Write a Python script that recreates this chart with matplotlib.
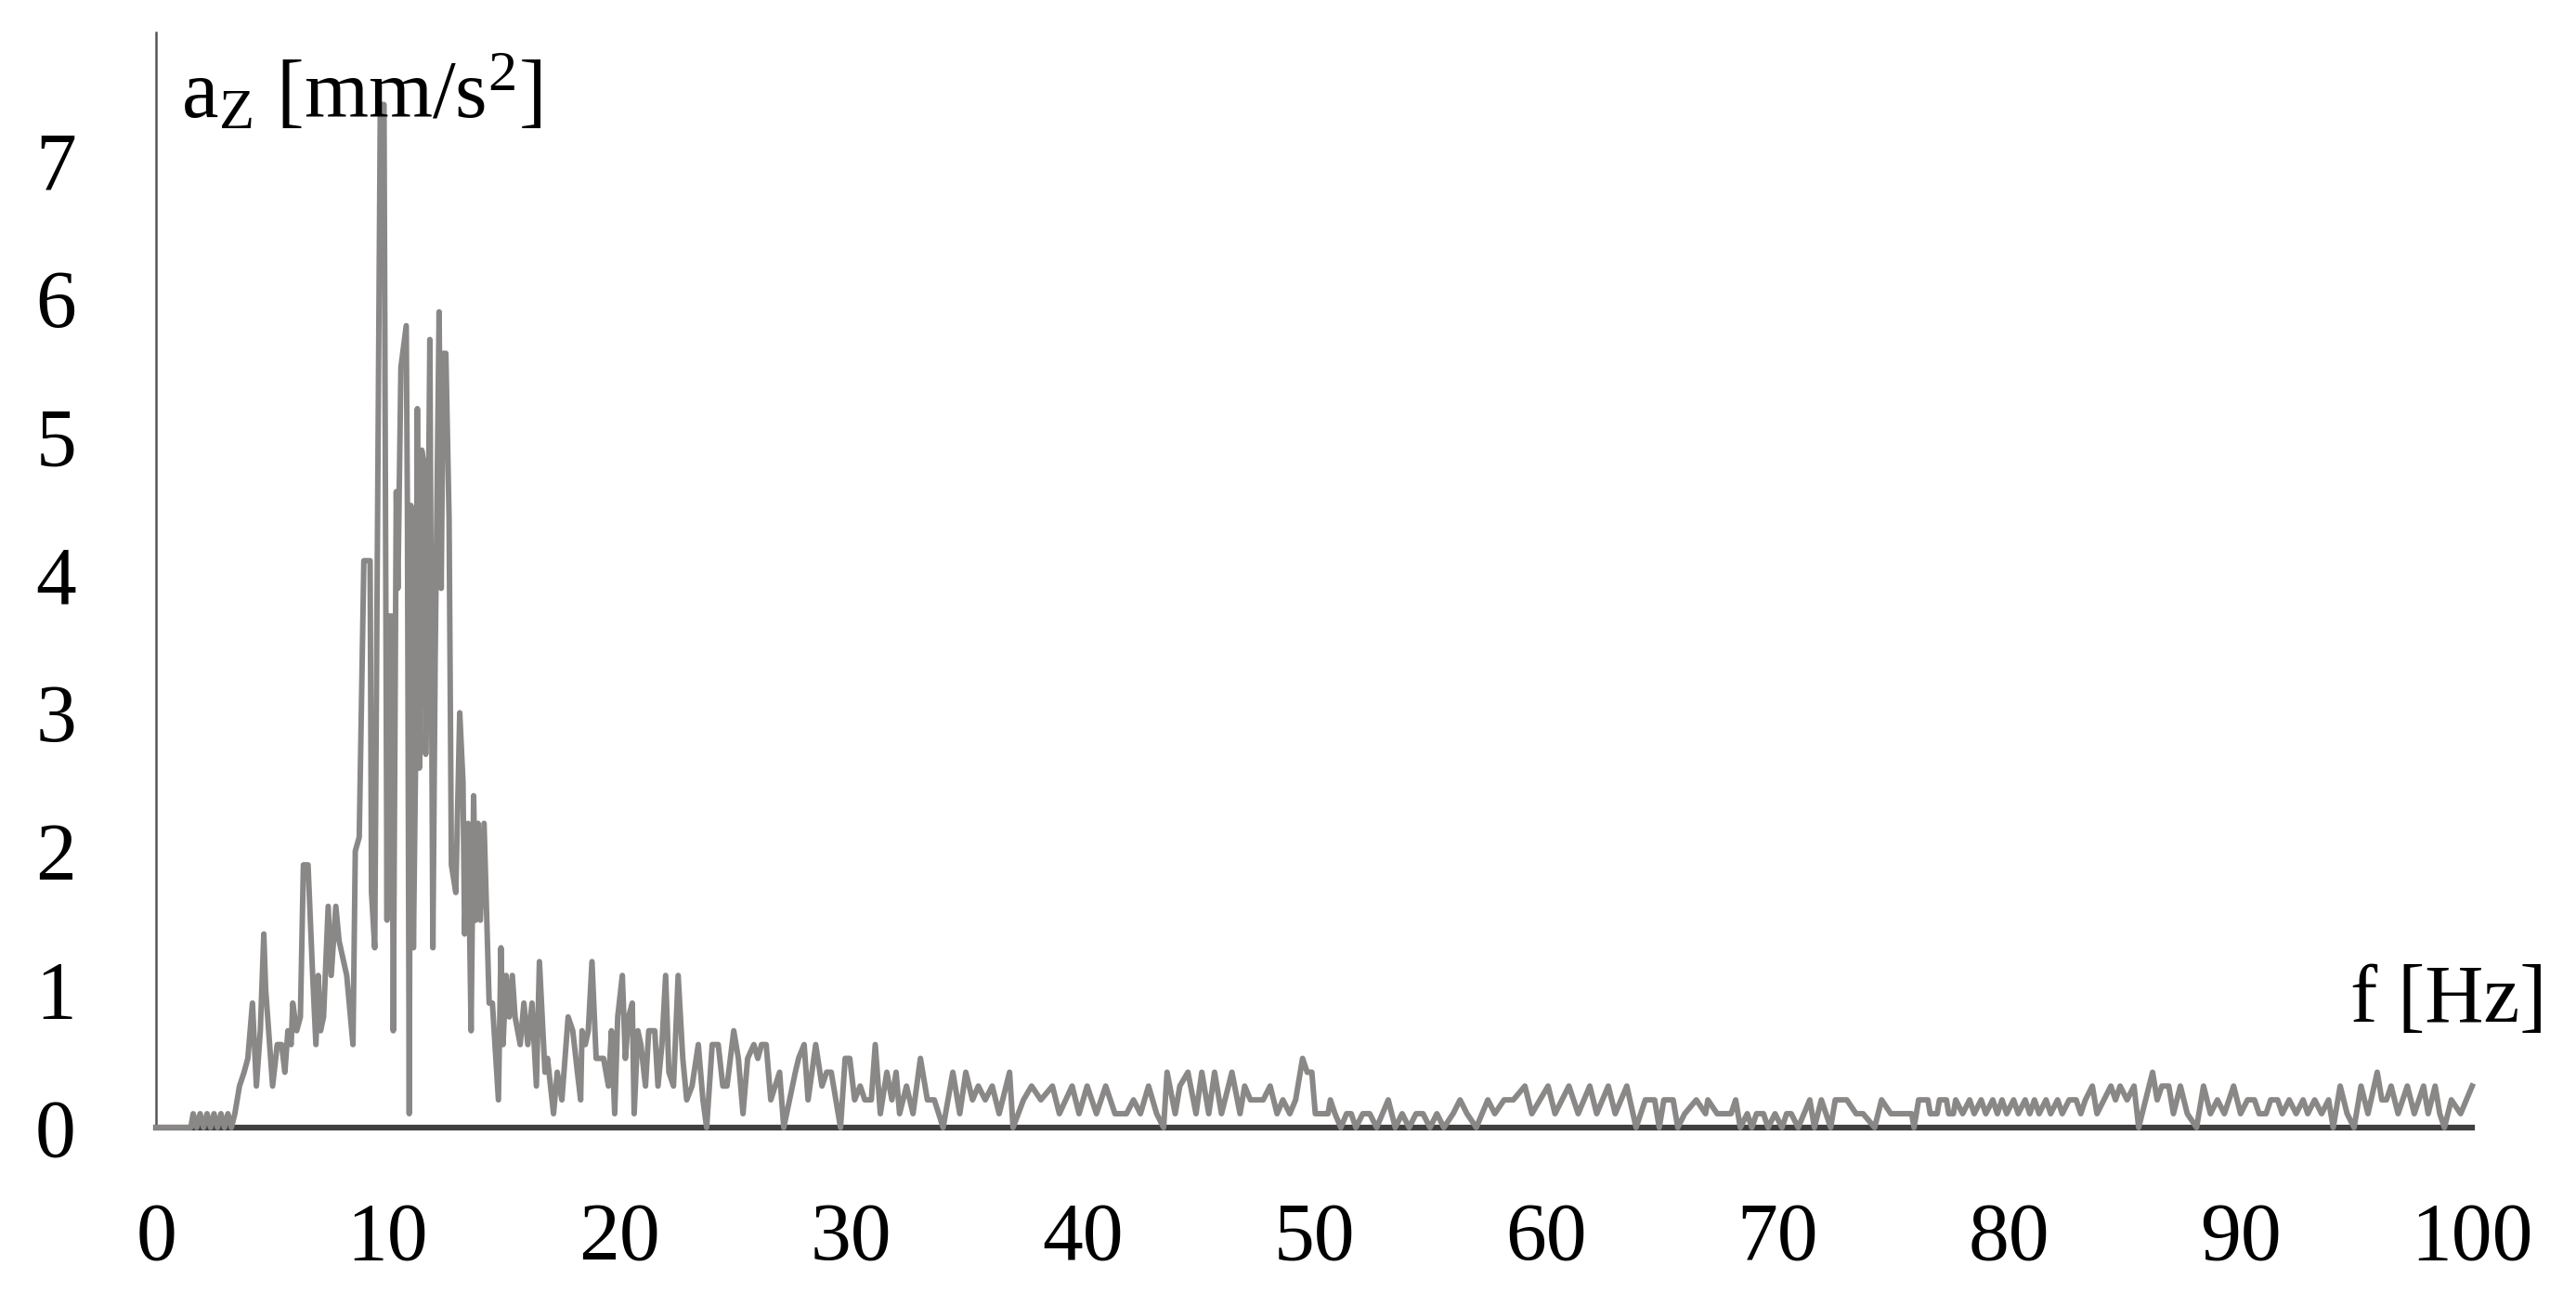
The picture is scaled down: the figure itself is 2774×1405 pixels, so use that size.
import numpy as np
import matplotlib.pyplot as plt

plt.rcParams['font.family'] = ['Liberation Serif', 'DejaVu Serif']
plt.rcParams['mathtext.fontset'] = 'custom'
plt.rcParams['mathtext.rm'] = 'Liberation Serif'
plt.rcParams['mathtext.it'] = 'Liberation Serif:italic'

# spectrum, split in frequency bands
# 0 - 8.5 Hz
f_low = [0.0, 1.5, 1.6, 1.75, 1.9, 2.05, 2.2, 2.35, 2.5, 2.65,
         2.8, 2.95, 3.1, 3.25, 3.4, 3.6, 3.8, 3.96, 4.16, 4.33,
         4.5, 4.65, 4.73, 5.03, 5.23, 5.42, 5.56, 5.69, 5.83, 5.9,
         6.07, 6.23, 6.36, 6.56, 6.76, 6.9, 7.0, 7.1, 7.23, 7.43,
         7.56, 7.76, 7.9, 8.23, 8.5]
a_low = [0.0, 0.0, 0.1, 0.0, 0.1, 0.0, 0.1, 0.0, 0.1, 0.0,
         0.1, 0.0, 0.1, 0.0, 0.1, 0.3, 0.4, 0.5, 0.9, 0.3,
         0.7, 1.4, 1.0, 0.3, 0.6, 0.6, 0.4, 0.7, 0.6, 0.9,
         0.7, 0.8, 1.9, 1.9, 1.1, 0.6, 1.1, 0.7, 0.8, 1.6,
         1.1, 1.6, 1.35, 1.1, 0.6]

# 8.5 - 14.5 Hz (main peak)
f_peak = [8.6, 8.77, 8.97, 9.24, 9.3, 9.44, 9.68, 9.84, 9.97, 10.0,
          10.17, 10.24, 10.37, 10.44, 10.57, 10.8, 10.85, 10.93, 11.0, 11.11,
          11.2, 11.28, 11.37, 11.47, 11.57, 11.64, 11.71, 11.82, 11.95, 12.05,
          12.22, 12.31, 12.4, 12.51, 12.65, 12.75, 12.94, 13.11, 13.25, 13.32,
          13.47, 13.6, 13.71, 13.8, 13.9, 14.0, 14.16, 14.38]
a_peak = [2.0, 2.1, 4.1, 4.1, 1.7, 1.3, 7.4, 7.4, 1.5, 3.7,
          3.7, 0.7, 4.6, 3.9, 5.5, 5.8, 4.5, 0.1, 4.5, 1.3,
          2.6, 5.2, 2.6, 4.9, 4.8, 2.7, 3.6, 5.7, 1.3, 3.4,
          5.9, 3.9, 5.6, 5.6, 4.4, 1.9, 1.7, 3.0, 2.5, 1.4,
          2.2, 0.7, 2.4, 1.5, 2.2, 1.5, 2.2, 0.9]

# 14.5 - 30 Hz
f_mid = [14.52, 14.78, 14.89, 14.98, 15.11, 15.25, 15.38, 15.5, 15.72, 15.88,
         16.05, 16.23, 16.42, 16.55, 16.79, 16.9, 17.16, 17.32, 17.52, 17.79,
         17.99, 18.19, 18.33, 18.39, 18.53, 18.66, 18.82, 19.0, 19.32, 19.53,
         19.66, 19.8, 19.93, 20.13, 20.26, 20.4, 20.56, 20.64, 20.8, 20.93,
         21.13, 21.27, 21.53, 21.67, 21.84, 22.0, 22.14, 22.34, 22.54, 22.74,
         22.91, 23.14, 23.41, 23.61, 23.77, 24.01, 24.27, 24.47, 24.65, 24.94,
         25.14, 25.34, 25.54, 25.81, 25.98, 26.14, 26.34, 26.54, 26.92, 27.1,
         27.35, 27.6, 27.74, 27.98, 28.15, 28.48, 28.75, 28.95, 29.15, 29.55,
         29.75, 29.95]
a_mid = [0.9, 0.2, 1.3, 0.6, 1.1, 0.8, 1.1, 0.8, 0.6, 0.9,
         0.6, 0.9, 0.3, 1.2, 0.4, 0.5, 0.1, 0.4, 0.2, 0.8,
         0.7, 0.4, 0.2, 0.7, 0.6, 0.7, 1.2, 0.5, 0.5, 0.3,
         0.7, 0.1, 0.8, 1.1, 0.5, 0.8, 0.9, 0.1, 0.7, 0.6,
         0.3, 0.7, 0.7, 0.3, 0.6, 1.1, 0.4, 0.3, 1.1, 0.5,
         0.2, 0.3, 0.6, 0.2, 0.0, 0.6, 0.6, 0.3, 0.3, 0.7,
         0.5, 0.1, 0.5, 0.6, 0.5, 0.6, 0.6, 0.2, 0.4, 0.0,
         0.2, 0.4, 0.5, 0.6, 0.2, 0.6, 0.3, 0.4, 0.4, 0.0,
         0.5, 0.5]

# 30 - 65 Hz
f_high = [30.16, 30.4, 30.6, 30.88, 31.05, 31.27, 31.55, 31.77, 31.95, 32.1,
          32.4, 32.68, 33.0, 33.3, 33.6, 33.98, 34.4, 34.7, 34.96, 35.25,
          35.5, 35.8, 36.1, 36.4, 36.85, 37.0, 37.45, 37.8, 38.2, 38.7,
          39.0, 39.55, 39.85, 40.2, 40.6, 41.0, 41.4, 41.9, 42.2, 42.5,
          42.85, 43.2, 43.5, 43.65, 44.0, 44.2, 44.55, 44.9, 45.15, 45.45,
          45.7, 46.0, 46.45, 46.8, 47.0, 47.25, 47.8, 48.1, 48.4, 48.65,
          48.95, 49.2, 49.5, 49.7, 49.9, 50.05, 50.6, 50.7, 50.9, 51.15,
          51.4, 51.6, 51.8, 52.1, 52.4, 52.7, 53.2, 53.5, 53.8, 54.1,
          54.4, 54.7, 55.0, 55.3, 55.6, 56.0, 56.3, 56.6, 57.0, 57.5,
          57.8, 58.2, 58.6, 59.1, 59.4, 59.75, 60.1, 60.4, 60.7, 61.0,
          61.4, 61.65, 61.9, 62.2, 62.45, 62.7, 63.0, 63.25, 63.5, 63.9,
          64.3, 64.7]
a_high = [0.2, 0.3, 0.2, 0.2, 0.6, 0.1, 0.4, 0.2, 0.4, 0.1,
          0.3, 0.1, 0.5, 0.2, 0.2, 0.0, 0.4, 0.1, 0.4, 0.2,
          0.3, 0.2, 0.3, 0.1, 0.4, 0.0, 0.2, 0.3, 0.2, 0.3,
          0.1, 0.3, 0.1, 0.3, 0.1, 0.3, 0.1, 0.1, 0.2, 0.1,
          0.3, 0.1, 0.0, 0.4, 0.1, 0.3, 0.4, 0.1, 0.4, 0.1,
          0.4, 0.1, 0.4, 0.1, 0.3, 0.2, 0.2, 0.3, 0.1, 0.2,
          0.1, 0.2, 0.5, 0.4, 0.4, 0.1, 0.1, 0.2, 0.1, 0.0,
          0.1, 0.1, 0.0, 0.1, 0.1, 0.0, 0.2, 0.0, 0.1, 0.0,
          0.1, 0.1, 0.0, 0.1, 0.0, 0.1, 0.2, 0.1, 0.0, 0.2,
          0.1, 0.2, 0.2, 0.3, 0.1, 0.2, 0.3, 0.1, 0.2, 0.3,
          0.1, 0.2, 0.3, 0.1, 0.2, 0.3, 0.1, 0.2, 0.3, 0.0,
          0.2, 0.2]

# 65 - 100 Hz
f_top = [64.9, 65.1, 65.5, 65.7, 66.0, 66.5, 66.9, 67.0, 67.4, 68.0,
         68.2, 68.4, 68.7, 68.9, 69.1, 69.4, 69.6, 69.9, 70.2, 70.4,
         70.6, 70.9, 71.4, 71.6, 71.9, 72.3, 72.5, 73.0, 73.4, 73.7,
         74.2, 74.5, 74.9, 75.8, 75.9, 76.1, 76.5, 76.6, 76.9, 77.0,
         77.3, 77.4, 77.6, 77.7, 78.0, 78.3, 78.5, 78.8, 79.0, 79.3,
         79.5, 79.7, 79.9, 80.2, 80.4, 80.7, 80.9, 81.1, 81.3, 81.6,
         81.8, 82.1, 82.3, 82.6, 82.9, 83.1, 83.3, 83.6, 83.8, 84.1,
         84.4, 84.6, 84.8, 85.1, 85.4, 85.6, 85.9, 86.2, 86.4, 86.6,
         86.9, 87.1, 87.4, 87.7, 88.1, 88.4, 88.7, 89.0, 89.3, 89.7,
         90.0, 90.3, 90.6, 90.8, 91.1, 91.3, 91.6, 91.8, 92.1, 92.4,
         92.7, 92.9, 93.2, 93.5, 93.8, 94.0, 94.3, 94.6, 94.9, 95.2,
         95.5, 95.9, 96.1, 96.3, 96.5, 96.8, 97.2, 97.5, 97.9, 98.1,
         98.4, 98.6, 98.8, 99.1, 99.5, 100.0]
a_top = [0.0, 0.2, 0.2, 0.0, 0.1, 0.2, 0.1, 0.2, 0.1, 0.1,
         0.2, 0.0, 0.1, 0.0, 0.1, 0.1, 0.0, 0.1, 0.0, 0.1,
         0.1, 0.0, 0.2, 0.0, 0.2, 0.0, 0.2, 0.2, 0.1, 0.1,
         0.0, 0.2, 0.1, 0.1, 0.0, 0.2, 0.2, 0.1, 0.1, 0.2,
         0.2, 0.1, 0.1, 0.2, 0.1, 0.2, 0.1, 0.2, 0.1, 0.2,
         0.1, 0.2, 0.1, 0.2, 0.1, 0.2, 0.1, 0.2, 0.1, 0.2,
         0.1, 0.2, 0.1, 0.2, 0.2, 0.1, 0.2, 0.3, 0.1, 0.2,
         0.3, 0.2, 0.3, 0.2, 0.3, 0.0, 0.2, 0.4, 0.2, 0.3,
         0.3, 0.1, 0.3, 0.1, 0.0, 0.3, 0.1, 0.2, 0.1, 0.3,
         0.1, 0.2, 0.2, 0.1, 0.1, 0.2, 0.2, 0.1, 0.2, 0.1,
         0.2, 0.1, 0.2, 0.1, 0.2, 0.0, 0.3, 0.1, 0.0, 0.3,
         0.1, 0.4, 0.2, 0.2, 0.3, 0.1, 0.3, 0.1, 0.3, 0.1,
         0.3, 0.1, 0.0, 0.2, 0.1, 0.3]

x_ticks = list(range(0, 101, 10))
y_ticks = list(range(0, 8))

freq = np.concatenate([f_low, f_peak, f_mid, f_high, f_top])
accel = np.concatenate([a_low, a_peak, a_mid, a_high, a_top])

fig = plt.figure(figsize=(27.74, 14.05), dpi=100)
ax = fig.add_axes([0.0606, 0.136, 0.8991, 0.839])

ax.plot(freq, accel, color='#8a8787', lw=4.3, zorder=3, clip_on=False)

ax.set_xlim(0, 100)
ax.set_ylim(0, 7.92)
ax.set_xticks(x_ticks)
ax.set_yticks(y_ticks)
ax.tick_params(axis='both', length=0, labelsize=63)
ax.tick_params(axis='x', pad=57)
ax.tick_params(axis='y', pad=62)

for s in ['top', 'right']:
    ax.spines[s].set_visible(False)
ax.spines['left'].set_linewidth(1.8)
ax.spines['left'].set_color('#555555')
ax.spines['bottom'].set_linewidth(4.5)
ax.spines['bottom'].set_color('#404040')
ax.spines['bottom'].set_zorder(2)

fig.text(0.0703, 0.9096, r'a$_{\mathrm{Z}}$ [mm/s$^{2}$]', fontsize=64,
         va='baseline', ha='left')
fig.text(0.9885, 0.217, 'f [Hz]', fontsize=63, va='baseline', ha='right')

fig.savefig('out.png', dpi=100)
